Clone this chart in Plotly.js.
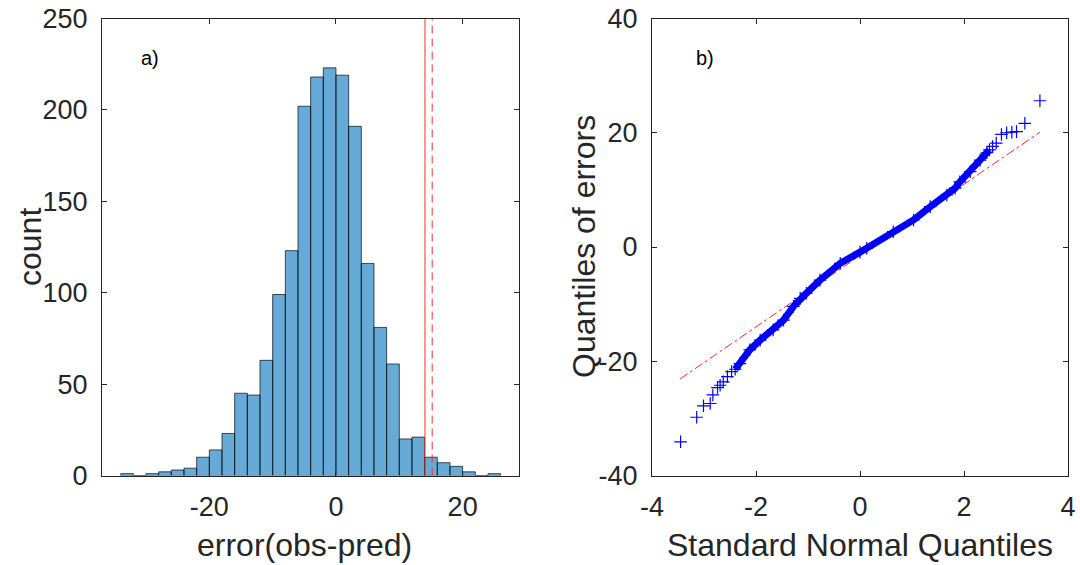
<!DOCTYPE html>
<html>
<head>
<meta charset="utf-8">
<script src="https://cdn.plot.ly/plotly-3.0.1.min.js"></script>
<style>html,body{margin:0;padding:0;background:#fff;}#chart{width:1080px;height:565px;}</style>
</head>
<body>
<div id="chart"></div>
<script>
// ---- Panel a) histogram of errors ----
const binEdges = [-34,-32,-30,-28,-26,-24,-22,-20,-18,-16,-14,-12,-10,-8,-6,-4,-2,0,2,4,6,8,10,12,14,16,18,20,22,24,26];
const binCounts = [1,0,1,2,3,4,10,14,23,45,44,63,99,123,202,218,223,219,191,116,81,61,20,21,10,7,5,2,0,1];
const solidLineX = 14.05;
const dashedLineX = 15.2;
const histXTicks = [-20,0,20];
const histXTickText = ['-20','0','20'];
const histYTicks = [0,50,100,150,200,250];
const histYTickText = ['0','50','100','150','200','250'];

// ---- Panel b) QQ plot (read from picture) ----
const qqTheo = [-3.45,-3.14,-3.01,-2.88,-2.83,-2.74,-2.69,-2.63,-2.55,-2.47,-2.40,-2.31,-2.12,-1.92,-1.67,-1.47,-1.28,-1.15,-1.03,-0.77,-0.38,0.0,0.13,0.64,1.03,1.35,1.67,1.83,1.92,2.12,2.31,2.44,2.49,2.55,2.62,2.72,2.82,2.92,3.01,3.17,3.46];
const qqErr  = [-34.1,-29.8,-27.8,-27.4,-25.9,-24.6,-24.2,-23.6,-22.7,-21.8,-21.4,-20.4,-18.0,-16.3,-14.5,-12.8,-10.4,-9.0,-8.1,-5.8,-2.85,-0.9,-0.23,2.68,4.73,7.06,9.1,10.3,11.4,13.2,15.2,16.5,17.0,17.6,18.2,19.7,20.0,20.1,20.2,21.65,25.6];
const refLineX = [-3.46, 3.46];
const refLineY = [-23.1, 20.1];
const qqXTicks = [-4,-2,0,2,4];
const qqXTickText = ['-4','-2','0','2','4'];
const qqYTicks = [-40,-20,0,20,40];
const qqYTickText = ['-40','-20','0','20','40'];

const centers = binCounts.map((c,i)=> (binEdges[i]+binEdges[i+1])/2);
const widths = binCounts.map((c,i)=> binEdges[i+1]-binEdges[i]);

const FONT = 'Liberation Sans, Arial, Helvetica, sans-serif';
const TXT = '#262626';

const bandTheo = qqTheo.filter(q => q >= -2.45 && q <= 2.5);
const bandErr = qqErr.filter((v,i) => qqTheo[i] >= -2.45 && qqTheo[i] <= 2.5);

const traces = [
  {type:'bar', x:centers, y:binCounts, width:widths, xaxis:'x', yaxis:'y',
   marker:{color:'rgba(0,114,189,0.6)', line:{color:'rgba(0,0,0,0.85)', width:0.8}}, hoverinfo:'x+y'},
  {type:'scatter', mode:'lines', x:[solidLineX, solidLineX], y:[histYTicks[0], histYTicks[histYTicks.length-1]], xaxis:'x', yaxis:'y',
   line:{color:'rgba(255,40,40,0.75)', width:1.3}},
  {type:'scatter', mode:'lines', x:[dashedLineX, dashedLineX], y:[histYTicks[0], histYTicks[histYTicks.length-1]], xaxis:'x', yaxis:'y',
   line:{color:'rgba(255,40,40,0.75)', width:1.3, dash:'8px,5px'}},
  {type:'scatter', mode:'lines', x:refLineX, y:refLineY, xaxis:'x2', yaxis:'y2',
   line:{color:'rgba(255,0,0,0.85)', width:1, dash:'dashdot'}},
  {type:'scatter', mode:'lines', x:bandTheo, y:bandErr, xaxis:'x2', yaxis:'y2',
   line:{color:'#0000ff', width:7}},
  {type:'scatter', mode:'markers', x:qqTheo, y:qqErr, xaxis:'x2', yaxis:'y2',
   marker:{symbol:'cross-thin', size:9, color:'#0000ff', line:{color:'#0000ff', width:1.2}}}
];

function axisBase(){
  return {showline:true, mirror:'ticks', linecolor:TXT, linewidth:1, ticks:'inside', ticklen:5,
          tickcolor:TXT, tickwidth:1, showgrid:false, zeroline:false, fixedrange:true,
          tickfont:{family:FONT, size:27, color:TXT}};
}

const layout = {
  width:1080, height:565, showlegend:false, paper_bgcolor:'#fff', plot_bgcolor:'#fff',
  margin:{l:0, r:0, t:0, b:0}, bargap:0,
  xaxis:Object.assign(axisBase(), {domain:[102/1080, 519/1080], range:[-36.95, 28.9], tickvals:histXTicks, ticktext:histXTickText, ticklabelstandoff:7, anchor:'y'}),
  yaxis:Object.assign(axisBase(), {domain:[1-475.5/565, 1-18.5/565], range:[0,250], tickvals:histYTicks, ticktext:histYTickText, ticklabelstandoff:8, anchor:'x'}),
  xaxis2:Object.assign(axisBase(), {domain:[652/1080, 1068/1080], range:[-4,4], tickvals:qqXTicks, ticktext:qqXTickText, ticklabelstandoff:7, anchor:'y2'}),
  yaxis2:Object.assign(axisBase(), {domain:[1-475.5/565, 1-18.5/565], range:[-40,40], tickvals:qqYTicks, ticktext:qqYTickText, ticklabelstandoff:8, anchor:'x2'}),
  annotations:[
    {text:'count', xref:'paper', yref:'paper', x:30/1080, y:1-247/565, showarrow:false, textangle:-90, xanchor:'center', yanchor:'middle', font:{family:FONT, size:32, color:TXT}},
    {text:'error(obs-pred)', xref:'paper', yref:'paper', x:304/1080, y:1-545/565, showarrow:false, xanchor:'center', yanchor:'middle', font:{family:FONT, size:32, color:TXT}},
    {text:'Quantiles of errors', xref:'paper', yref:'paper', x:584/1080, y:1-247/565, showarrow:false, textangle:-90, xanchor:'center', yanchor:'middle', font:{family:FONT, size:32, color:TXT}},
    {text:'Standard Normal Quantiles', xref:'paper', yref:'paper', x:860/1080, y:1-545/565, showarrow:false, xanchor:'center', yanchor:'middle', font:{family:FONT, size:32, color:TXT}},
    {text:'a)', xref:'paper', yref:'paper', x:150/1080, y:1-58/565, showarrow:false, xanchor:'center', yanchor:'middle', font:{family:FONT, size:20, color:'#000'}},
    {text:'b)', xref:'paper', yref:'paper', x:705/1080, y:1-58/565, showarrow:false, xanchor:'center', yanchor:'middle', font:{family:FONT, size:20, color:'#000'}}
  ]
};

Plotly.newPlot('chart', traces, layout, {displayModeBar:false, staticPlot:true});
</script>
</body>
</html>
